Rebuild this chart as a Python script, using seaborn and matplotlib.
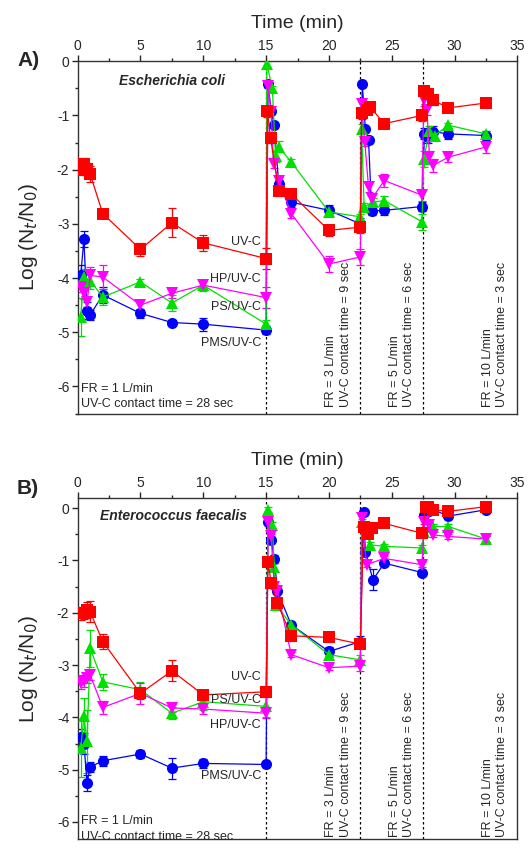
import numpy as np
import pandas as pd
import matplotlib
matplotlib.use("Agg")
import matplotlib.pyplot as plt
import seaborn as sns

# ---------- data: panel A, Escherichia coli ----------
a_uvc_t = [0.25, 0.5, 0.75, 1, 2, 5, 7.5, 10, 15, 15.1, 15.35, 16, 17, 20, 22.5,
           22.6, 23.0, 23.3, 24.4, 27.4, 27.6, 27.9, 28.3, 29.5, 32.5]
a_uvc_v = [-2.0, -1.89, -1.98, -2.08, -2.81, -3.47, -2.98, -3.35, -3.64, -0.92, -1.41, -2.39, -2.45,
           -3.12, -3.06, -0.96, -0.9, -0.85, -1.15, -1.0, -0.54, -0.6, -0.72, -0.86, -0.77]
a_uvc_e = [0.1, 0.1, 0.1, 0.15, 0.08, 0.12, 0.27, 0.15, 0.2, 0.1, 0.1, 0.1, 0.1,
           0.1, 0.1, 0.1, 0.08, 0.08, 0.08, 0.1, 0.08, 0.08, 0.08, 0.06, 0.06]

a_pms_t = [0.25, 0.5, 0.75, 1, 2, 5, 7.5, 10, 15, 15.15, 15.4, 15.65, 16, 17, 20, 22.5,
           22.65, 22.9, 23.15, 23.4, 24.4, 27.4, 27.6, 27.9, 28.3, 29.5, 32.5]
a_pms_v = [-3.95, -3.28, -4.6, -4.68, -4.31, -4.65, -4.82, -4.85, -4.96, -0.42, -0.91, -1.18, -2.27,
           -2.6, -2.75, -3.0, -0.42, -1.25, -1.45, -2.76, -2.75, -2.68, -1.34, -1.4, -1.3, -1.34, -1.37]
a_pms_e = [0.2, 0.15, 0.15, 0.1, 0.15, 0.08, 0.05, 0.12, 0.08, 0.05, 0.05, 0.05, 0.08,
           0.08, 0.1, 0.1, 0.05, 0.05, 0.05, 0.08, 0.08, 0.08, 0.1, 0.1, 0.1, 0.1, 0.08]

a_ps_t = [0.25, 0.5, 1, 2, 5, 7.5, 10, 15, 15.05, 15.5, 15.75, 16, 17, 20, 22.5,
          22.6, 22.8, 23.5, 24.4, 27.4, 27.55, 28.0, 28.4, 29.5, 32.5]
a_ps_v = [-4.71, -3.98, -4.05, -4.35, -4.07, -4.46, -4.13, -4.85, -0.05, -0.5, -1.75, -1.58, -1.86,
          -2.78, -2.87, -1.25, -2.69, -2.6, -2.57, -2.96, -1.8, -1.28, -1.37, -1.18, -1.34]
a_ps_e = [0.35, 0.15, 0.15, 0.15, 0.05, 0.15, 0.1, 0.08, 0.05, 0.05, 0.1, 0.1, 0.05,
          0.05, 0.05, 0.1, 0.08, 0.08, 0.08, 0.15, 0.15, 0.08, 0.08, 0.05, 0.05]

a_hp_t = [0.25, 0.5, 0.75, 1, 2, 5, 7.5, 10, 15, 15.15, 15.4, 15.6, 16, 17, 20, 22.5,
          22.6, 22.85, 23.15, 23.4, 24.4, 27.4, 27.55, 27.8, 28.0, 28.3, 29.5, 32.5]
a_hp_v = [-4.16, -4.28, -4.44, -3.95, -3.98, -4.5, -4.28, -4.13, -4.36, -0.45, -0.94, -1.89, -2.2,
          -2.81, -3.74, -3.61, -0.79, -1.49, -2.32, -2.54, -2.2, -2.47, -0.72, -0.9, -1.77, -1.92,
          -1.77, -1.58]
a_hp_e = [0.1, 0.1, 0.1, 0.15, 0.22, 0.08, 0.08, 0.08, 0.2, 0.05, 0.05, 0.08, 0.08,
          0.08, 0.15, 0.15, 0.08, 0.08, 0.1, 0.1, 0.12, 0.1, 0.1, 0.1, 0.12, 0.12, 0.08, 0.12]

# ---------- data: panel B, Enterococcus faecalis ----------
b_uvc_t = [0.25, 0.5, 0.75, 1, 2, 5, 7.5, 10, 15, 15.15, 15.4, 15.9, 17, 20, 22.5,
           22.75, 23.1, 23.4, 24.4, 27.4, 27.7, 27.9, 28.3, 29.5, 32.5]
b_uvc_v = [-2.01, -2.0, -1.95, -1.98, -2.55, -3.54, -3.11, -3.57, -3.51, -1.02, -1.43, -1.82, -2.44,
           -2.47, -2.6, -0.35, -0.5, -0.38, -0.29, -0.48, 0.03, 0.03, -0.03, -0.06, 0.03]
b_uvc_e = [0.12, 0.12, 0.15, 0.2, 0.15, 0.1, 0.2, 0.1, 0.1, 0.08, 0.08, 0.1, 0.1,
           0.05, 0.08, 0.05, 0.05, 0.05, 0.04, 0.04, 0.04, 0.04, 0.04, 0.04, 0.04]

b_pms_t = [0.25, 0.5, 0.75, 1, 2, 5, 7.5, 10, 15, 15.15, 15.4, 15.65, 15.9, 17, 20, 22.5,
           22.75, 22.9, 23.5, 24.4, 27.4, 27.6, 28.0, 28.3, 29.5, 32.5]
b_pms_v = [-4.37, -4.5, -5.25, -4.95, -4.83, -4.7, -4.97, -4.88, -4.9, -0.26, -0.61, -0.97, -1.59,
           -2.23, -2.74, -2.55, -0.08, -0.83, -1.37, -1.05, -1.23, -0.13, -0.06, -0.03, -0.15, -0.03]
b_pms_e = [0.15, 0.2, 0.15, 0.1, 0.1, 0.08, 0.2, 0.08, 0.05, 0.05, 0.05, 0.08, 0.1,
           0.05, 0.08, 0.1, 0.05, 0.05, 0.2, 0.05, 0.05, 0.05, 0.05, 0.05, 0.05, 0.05]

b_ps_t = [0.25, 0.5, 0.75, 1, 2, 5, 7.5, 10, 15, 15.15, 15.5, 15.65, 15.8, 17, 20, 22.5,
          22.6, 23.3, 24.4, 27.4, 27.6, 28.3, 29.5, 32.5]
b_ps_v = [-4.59, -3.98, -4.46, -2.68, -3.32, -3.47, -3.92, -3.70, -3.79, -0.03, -0.32, -1.12, -1.85,
          -2.23, -2.8, -2.9, -0.26, -0.7, -0.73, -0.76, -0.45, -0.35, -0.35, -0.59]
b_ps_e = [0.55, 0.35, 0.6, 0.35, 0.15, 0.15, 0.12, 0.15, 0.2, 0.05, 0.05, 0.08, 0.1,
          0.05, 0.05, 0.1, 0.05, 0.05, 0.05, 0.05, 0.05, 0.05, 0.05, 0.05]

b_hp_t = [0.25, 0.5, 0.75, 1, 2, 5, 7.5, 10, 15, 15.15, 15.4, 15.65, 15.9, 17, 20, 22.5,
          22.6, 23.0, 24.4, 27.4, 27.6, 28.0, 28.3, 29.5, 32.5]
b_hp_v = [-3.35, -3.3, -3.25, -3.19, -3.81, -3.54, -3.82, -3.84, -3.92, -0.26, -0.54, -1.5, -1.59,
          -2.8, -3.05, -3.02, -0.19, -1.08, -0.96, -1.08, -0.26, -0.32, -0.51, -0.54, -0.59]
b_hp_e = [0.1, 0.12, 0.1, 0.1, 0.12, 0.2, 0.08, 0.1, 0.1, 0.05, 0.05, 0.05, 0.05,
          0.05, 0.05, 0.1, 0.05, 0.05, 0.05, 0.05, 0.05, 0.05, 0.05, 0.05, 0.05]

SERIES = ["PMS/UV-C", "PS/UV-C", "HP/UV-C", "UV-C"]
COLORS = {"UV-C": "#FF0000", "PMS/UV-C": "#0000FF", "PS/UV-C": "#00E000", "HP/UV-C": "#FF00FF"}
MARKERS = {"UV-C": "s", "PMS/UV-C": "o", "PS/UV-C": "^", "HP/UV-C": "v"}

switch_times = [15, 22.5, 27.5]


def build(rows):
    frames = []
    for name, t, v, e in rows:
        frames.append(pd.DataFrame({"time": t, "logr": v, "err": e, "treat": name}))
    return pd.concat(frames, ignore_index=True)


panel_a = build([
    ("PMS/UV-C", a_pms_t, a_pms_v, a_pms_e),
    ("PS/UV-C", a_ps_t, a_ps_v, a_ps_e),
    ("HP/UV-C", a_hp_t, a_hp_v, a_hp_e),
    ("UV-C", a_uvc_t, a_uvc_v, a_uvc_e),
])
panel_b = build([
    ("PMS/UV-C", b_pms_t, b_pms_v, b_pms_e),
    ("PS/UV-C", b_ps_t, b_ps_v, b_ps_e),
    ("HP/UV-C", b_hp_t, b_hp_v, b_hp_e),
    ("UV-C", b_uvc_t, b_uvc_v, b_uvc_e),
])

sns.set_style("ticks")
plt.rcParams["font.family"] = ["Liberation Sans", "DejaVu Sans"]
plt.rcParams["axes.unicode_minus"] = False
plt.rcParams["axes.linewidth"] = 1.0


def draw_panel(ax, df, ylim, species, species_xy, labels, fr1_y, rot_y):
    for name in SERIES:
        sub = df[df["treat"] == name]
        ax.errorbar(sub["time"], sub["logr"], yerr=sub["err"], fmt="none",
                    ecolor=COLORS[name], elinewidth=0.9, capsize=3, capthick=0.9, zorder=2)
    sns.lineplot(data=df, x="time", y="logr", hue="treat", style="treat",
                 hue_order=SERIES, style_order=SERIES, palette=COLORS, markers=MARKERS,
                 dashes=False, sort=False, estimator=None, markersize=8,
                 markeredgewidth=0, linewidth=0.9, legend=False, ax=ax, zorder=3)

    for xs in switch_times:
        ax.axvline(xs, color="black", linestyle=(0, (2, 2)), linewidth=0.9, zorder=1)

    ax.set_xlim(0, 35)
    ax.set_xticks(np.arange(0, 36, 5))
    ax.set_xticks(np.arange(2.5, 35, 5), minor=True)
    ax.set_yticks(np.arange(-6, 0.5, 1))
    ax.set_yticks(np.arange(-6.5, 0.3, 0.5), minor=True)
    ax.set_ylim(*ylim)
    ax.xaxis.tick_top()
    ax.xaxis.set_label_position("top")
    ax.tick_params(axis="both", which="major", direction="out", length=4, width=1, labelsize=10,
                   pad=2)
    ax.tick_params(axis="both", which="minor", direction="out", length=2.5, width=1)
    ax.tick_params(axis="x", which="both", bottom=False, top=True)
    for sp in ax.spines.values():
        sp.set_visible(True)
        sp.set_color("#333333")
    ax.set_xlabel("Time (min)", fontsize=14, labelpad=8)
    ax.set_ylabel("Log (N$_t$/N$_0$)", fontsize=15, labelpad=12)

    ax.text(species_xy[0], species_xy[1], species, fontsize=10, fontweight="bold",
            fontstyle="italic", ha="center", va="center")
    for txt, yv in labels:
        ax.text(14.6, yv, txt, fontsize=9, ha="right", va="center")
    ax.text(0.3, fr1_y[0], "FR = 1 L/min", fontsize=9, ha="left", va="center")
    ax.text(0.3, fr1_y[1], "UV-C contact time = 28 sec", fontsize=9, ha="left", va="center")

    rot_texts = [(21.8, "FR = 3 L/min\nUV-C contact time = 9 sec"),
                 (26.85, "FR = 5 L/min\nUV-C contact time = 6 sec"),
                 (34.25, "FR = 10 L/min\nUV-C contact time = 3 sec")]
    for xr, txt in rot_texts:
        ax.text(xr, rot_y, txt, fontsize=9, rotation=90, ha="right", va="bottom",
                multialignment="left", linespacing=1.25)


fig = plt.figure(figsize=(5.28, 8.51), dpi=100)
ax_a = fig.add_axes([0.147, 0.514, 0.833, 0.414])
ax_b = fig.add_axes([0.147, 0.0138, 0.833, 0.4007])

draw_panel(ax_a, panel_a, (-6.5, 0), "Escherichia coli", (7.5, -0.36),
           [("UV-C", -3.33), ("HP/UV-C", -4.02), ("PS/UV-C", -4.53), ("PMS/UV-C", -5.2)],
           (-6.05, -6.32), -6.38)
draw_panel(ax_b, panel_b, (-6.33, 0.19), "Enterococcus faecalis", (7.6, -0.15),
           [("UV-C", -3.22), ("PS/UV-C", -3.66), ("HP/UV-C", -4.14), ("PMS/UV-C", -5.13)],
           (-5.99, -6.28), -6.28)

fig.text(17 / 528, 1 - 61 / 851, "A)", fontsize=15, fontweight="bold", ha="left", va="center")
fig.text(17 / 528, 1 - 488 / 851, "B)", fontsize=15, fontweight="bold", ha="left", va="center")

fig.savefig("out.png", dpi=100)
plt.close(fig)
